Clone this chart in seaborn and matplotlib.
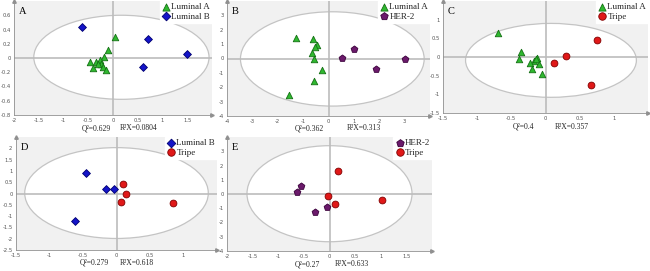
import pandas as pd
import matplotlib
matplotlib.use("Agg")
import matplotlib.pyplot as plt
from matplotlib.patches import Ellipse
import seaborn as sns

# 各組樣本的 t[1] / t[2] 分數
A_LUMA_X = [0.05, -0.10, -0.19, -0.47, -0.35, -0.27, -0.25, -0.30, -0.40, -0.20, -0.15]
A_LUMA_Y = [0.29, 0.115, 0.02, -0.06, -0.06, -0.03, -0.09, -0.08, -0.14, -0.12, -0.17]
A_LUMB_X = [-0.62, 0.71, 1.49, 0.61]
A_LUMB_Y = [0.44, 0.27, 0.05, -0.12]

B_LUMA_X = [-1.28, -0.63, -0.46, -0.55, -0.65, -0.59, -0.24, -0.56, -1.54]
B_LUMA_Y = [1.46, 1.39, 0.93, 0.81, 0.35, 0.0, -0.77, -1.58, -2.55]
B_HER2_X = [0.52, 0.99, 1.86, 3.0]
B_HER2_Y = [0.05, 0.63, -0.72, 0.0]

C_LUMA_X = [-0.69, -0.36, -0.39, -0.13, -0.17, -0.22, -0.09, -0.20, -0.05, -0.14]
C_LUMA_Y = [0.63, 0.14, -0.05, -0.03, -0.10, -0.16, -0.20, -0.32, -0.45, -0.05]
C_TRIP_X = [0.13, 0.30, 0.75, 0.66]
C_TRIP_Y = [-0.17, 0.03, 0.45, -0.75]

D_LUMB_X = [-0.46, -0.16, -0.04, -0.62]
D_LUMB_Y = [0.91, 0.20, 0.20, -1.21]
D_TRIP_X = [0.10, 0.14, 0.07, 0.84]
D_TRIP_Y = [0.42, 0.0, -0.37, -0.42]

E_HER2_X = [-0.55, -0.64, -0.29, -0.05]
E_HER2_Y = [0.55, 0.14, -1.24, -0.89]
E_TRIP_X = [0.16, -0.02, 0.10, 1.02]
E_TRIP_Y = [1.58, -0.16, -0.73, -0.44]

# Hotelling T2 橢圓: (中心x, 中心y, 半寬, 半高)
A_ELL = [0.17, 0.01, 1.77, 0.59]
B_ELL = [0.15, -0.03, 3.62, 3.28]
C_ELL = [0.08, -0.09, 1.25, 0.99]
D_ELL = [0.0, 0.02, 1.37, 2.01]
E_ELL = [0.0, 0.02, 1.61, 3.37]

A_STATS = ["Q²=0.629", "R²X=0.0804"]
B_STATS = ["Q²=0.362", "R²X=0.313"]
C_STATS = ["Q²=0.4", "R²X=0.357"]
D_STATS = ["Q²=0.279", "R²X=0.618"]
E_STATS = ["Q²=0.27", "R²X=0.633"]

COLORS = {"Luminal A": "#2fb82f", "Luminal B": "#1414c8",
          "HER-2": "#6b1a6b", "Tripe": "#e01818"}
EDGES = {"Luminal A": "#147014", "Luminal B": "#000070",
         "HER-2": "#3a003a", "Tripe": "#800000"}
MARKERS = {"Luminal A": "^", "Luminal B": "D", "HER-2": "p", "Tripe": "o"}
SIZES = {"Luminal A": 22, "Luminal B": 16, "HER-2": 26, "Tripe": 24}

SERIF = ["Liberation Serif", "DejaVu Serif"]


def draw_panel(fig, rect, letter, groups, ell, xlim, ylim, xticks, yticks, stats, stat_pos):
    ax = fig.add_axes(rect)
    ax.set_facecolor("#f1f1f1")
    ax.add_patch(Ellipse((ell[0], ell[1]), 2 * ell[2], 2 * ell[3],
                         facecolor="white", edgecolor="#c4c4c4", lw=0.9, zorder=0))
    ax.axhline(0, color="#bcbcbc", lw=1.2, zorder=1)
    ax.axvline(0, color="#bcbcbc", lw=1.2, zorder=1)

    for name, xs, ys in groups:
        df = pd.DataFrame({"x": xs, "y": ys, "group": name})
        sns.scatterplot(data=df, x="x", y="y", ax=ax, color=COLORS[name],
                        marker=MARKERS[name], s=SIZES[name],
                        edgecolor=EDGES[name], linewidth=0.6, zorder=3, label=name)

    ax.set_xlim(*xlim)
    ax.set_ylim(*ylim)
    ax.set_xticks(xticks)
    ax.set_yticks(yticks)
    ax.set_xticklabels([f"{t:g}" for t in xticks])
    ax.set_yticklabels([f"{t:g}" for t in yticks])
    ax.tick_params(labelsize=3.8, colors="#555555", length=1.5, width=0.5, pad=1)
    ax.set_xlabel("")
    ax.set_ylabel("")
    for side in ["top", "right"]:
        ax.spines[side].set_visible(False)
    for side in ["left", "bottom"]:
        ax.spines[side].set_color("#909090")
        ax.spines[side].set_linewidth(0.6)
    # 座標軸箭頭
    ax.plot(1, 0, ">", color="#909090", ms=2.5, transform=ax.transAxes, clip_on=False)
    ax.plot(0, 1, "^", color="#909090", ms=2.5, transform=ax.transAxes, clip_on=False)

    ax.text(0.025, 0.95, letter, transform=ax.transAxes, ha="left", va="top",
            fontsize=7.5, family=SERIF, color="black")

    leg = ax.legend(loc="upper right", prop={"family": SERIF, "size": 6.5},
                    frameon=True, fancybox=False, borderpad=0.2, labelspacing=0.15,
                    handletextpad=0.1, handlelength=1.0, borderaxespad=0.0,
                    markerscale=1.1)
    leg.get_frame().set_edgecolor("white")
    leg.get_frame().set_facecolor("white")
    leg.get_frame().set_alpha(1)

    fig.text(stat_pos[0] / 650, 1 - stat_pos[2] / 271, stats[0], ha="left", va="center",
             fontsize=5.5, family=SERIF)
    fig.text(stat_pos[1] / 650, 1 - stat_pos[2] / 271, stats[1], ha="left", va="center",
             fontsize=5.5, family=SERIF)
    return ax


def px_rect(left, right, top, bottom):
    return [left / 650, 1 - bottom / 271, (right - left) / 650, (bottom - top) / 271]


def main():
    sns.set_style("white")
    fig = plt.figure(figsize=(6.5, 2.71), dpi=100)
    fig.patch.set_facecolor("white")

    draw_panel(fig, px_rect(14, 212, 1, 115), "A",
               [("Luminal A", A_LUMA_X, A_LUMA_Y), ("Luminal B", A_LUMB_X, A_LUMB_Y)],
               A_ELL, (-2, 2), (-0.8, 0.8),
               [-2, -1.5, -1, -0.5, 0, 0.5, 1, 1.5],
               [-0.8, -0.6, -0.4, -0.2, 0, 0.2, 0.4, 0.6],
               A_STATS, (82, 120, 128))
    draw_panel(fig, px_rect(227, 430, 1, 116), "B",
               [("Luminal A", B_LUMA_X, B_LUMA_Y), ("HER-2", B_HER2_X, B_HER2_Y)],
               B_ELL, (-4, 4), (-4, 4),
               [-4, -3, -2, -1, 0, 1, 2, 3],
               [-4, -3, -2, -1, 0, 1, 2, 3],
               B_STATS, (295, 347, 128))
    draw_panel(fig, px_rect(443, 648, 1, 113), "C",
               [("Luminal A", C_LUMA_X, C_LUMA_Y), ("Tripe", C_TRIP_X, C_TRIP_Y)],
               C_ELL, (-1.5, 1.5), (-1.5, 1.5),
               [-1.5, -1, -0.5, 0, 0.5, 1],
               [-1.5, -1, -0.5, 0, 0.5, 1],
               C_STATS, (513, 555, 127))
    draw_panel(fig, px_rect(16, 217, 137, 250), "D",
               [("Luminal B", D_LUMB_X, D_LUMB_Y), ("Tripe", D_TRIP_X, D_TRIP_Y)],
               D_ELL, (-1.5, 1.5), (-2.5, 2.5),
               [-1.5, -1, -0.5, 0, 0.5, 1],
               [-2.5, -2, -1.5, -1, -0.5, 0, 0.5, 1, 1.5, 2],
               D_STATS, (80, 120, 263))
    draw_panel(fig, px_rect(227, 432, 137, 251), "E",
               [("HER-2", E_HER2_X, E_HER2_Y), ("Tripe", E_TRIP_X, E_TRIP_Y)],
               E_ELL, (-2, 2), (-4, 4),
               [-2, -1.5, -1, -0.5, 0, 0.5, 1, 1.5],
               [-4, -3, -2, -1, 0, 1, 2, 3],
               E_STATS, (295, 335, 264))

    fig.savefig("out.png", dpi=100)


if __name__ == "__main__":
    main()
